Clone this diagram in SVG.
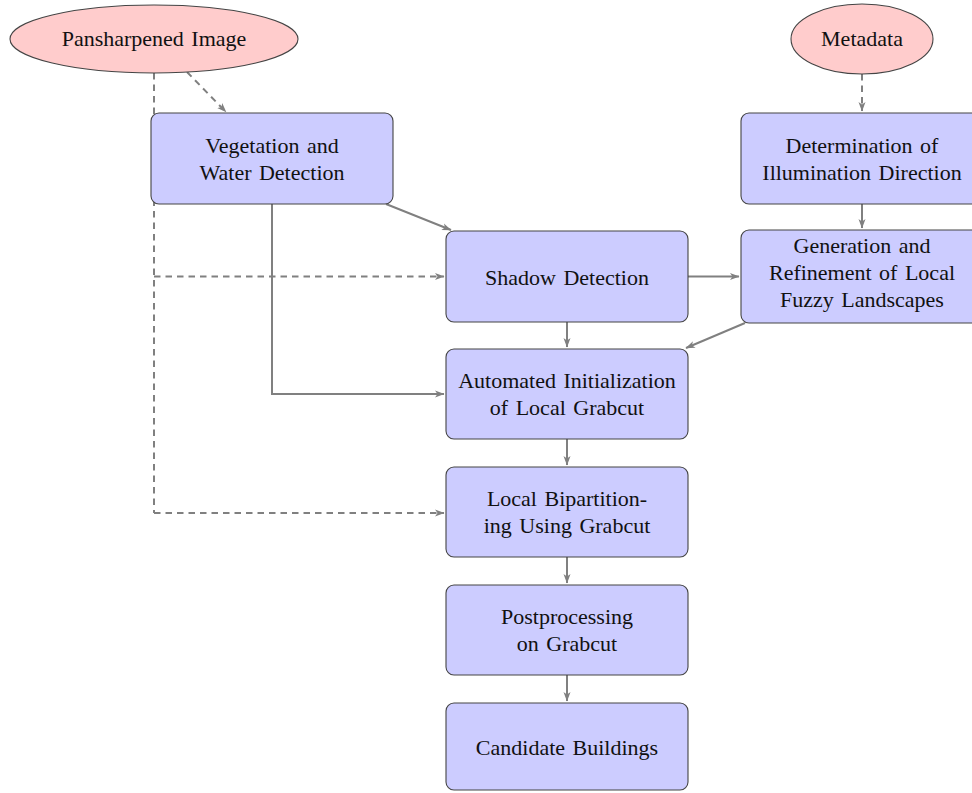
<svg xmlns="http://www.w3.org/2000/svg" width="972" height="793" viewBox="0 0 972 793">
<defs>
<marker id="ah" markerWidth="10" markerHeight="8" refX="9" refY="4" orient="auto" markerUnits="userSpaceOnUse">
<path d="M0,0.5 L9.5,4 L0,7.5 L2.5,4 Z" fill="#808080"/>
</marker>
<style>
.box{fill:#ccccff;stroke:#444;stroke-width:1.1}
.ell{fill:#ffcccc;stroke:#444;stroke-width:1.1}
.t{font-family:"Liberation Serif","Times New Roman",serif;font-size:22px;fill:#111;text-anchor:middle;word-spacing:2px}
.c{fill:none;stroke:#808080;stroke-width:2;marker-end:url(#ah)}
.d{stroke-dasharray:6.5,5}
.n{fill:none;stroke:#808080;stroke-width:2}
</style>
</defs>
<rect width="972" height="793" fill="#fff"/>
<g id="connectors">
<line class="n d" x1="154" y1="73" x2="154" y2="513"/>
<line class="c d" x1="154" y1="276.5" x2="444" y2="276.5"/>
<line class="c d" x1="154" y1="513" x2="444" y2="513"/>
<line class="c d" x1="187" y1="72" x2="226" y2="112"/>
<line class="c d" x1="862" y1="74" x2="862" y2="111"/>
<line class="c" x1="862" y1="204" x2="862" y2="228"/>
<line class="c" x1="386" y1="204" x2="451" y2="230"/>
<polyline class="c" points="272,204 272,394 444,394"/>
<line class="c" x1="688" y1="276.5" x2="739" y2="276.5"/>
<line class="c" x1="745" y1="323" x2="686" y2="348"/>
<line class="c" x1="567" y1="322" x2="567" y2="347"/>
<line class="c" x1="567" y1="439" x2="567" y2="465"/>
<line class="c" x1="567" y1="557" x2="567" y2="583"/>
<line class="c" x1="567" y1="675" x2="567" y2="701"/>
</g>
<g id="pansharpened">
<ellipse class="ell" cx="154" cy="39" rx="144" ry="34"/>
<text class="t" x="154" y="46">Pansharpened Image</text>
</g>
<g id="metadata">
<ellipse class="ell" cx="862" cy="39" rx="71" ry="35"/>
<text class="t" x="862" y="46">Metadata</text>
</g>
<g id="vegetation">
<rect class="box" x="151" y="113" width="242" height="91" rx="8"/>
<text class="t" x="272" y="152.5">Vegetation and</text>
<text class="t" x="272" y="179.5">Water Detection</text>
</g>
<g id="determination">
<rect class="box" x="741" y="113" width="242" height="91" rx="8"/>
<text class="t" x="862" y="152.5">Determination of</text>
<text class="t" x="862" y="179.5">Illumination Direction</text>
</g>
<g id="shadow">
<rect class="box" x="446" y="231" width="242" height="91" rx="8"/>
<text class="t" x="567" y="284.5">Shadow Detection</text>
</g>
<g id="generation">
<rect class="box" x="741" y="230" width="242" height="93" rx="8"/>
<text class="t" x="862" y="253">Generation and</text>
<text class="t" x="862" y="280">Refinement of Local</text>
<text class="t" x="862" y="307">Fuzzy Landscapes</text>
</g>
<g id="automated">
<rect class="box" x="446" y="349" width="242" height="90" rx="8"/>
<text class="t" x="567" y="388">Automated Initialization</text>
<text class="t" x="567" y="415">of Local Grabcut</text>
</g>
<g id="bipartitioning">
<rect class="box" x="446" y="467" width="242" height="90" rx="8"/>
<text class="t" x="567" y="506">Local Bipartition-</text>
<text class="t" x="567" y="533">ing Using Grabcut</text>
</g>
<g id="postprocessing">
<rect class="box" x="446" y="585" width="242" height="90" rx="8"/>
<text class="t" x="567" y="624">Postprocessing</text>
<text class="t" x="567" y="651">on Grabcut</text>
</g>
<g id="candidate">
<rect class="box" x="446" y="703" width="242" height="87" rx="8"/>
<text class="t" x="567" y="755">Candidate Buildings</text>
</g>
</svg>
